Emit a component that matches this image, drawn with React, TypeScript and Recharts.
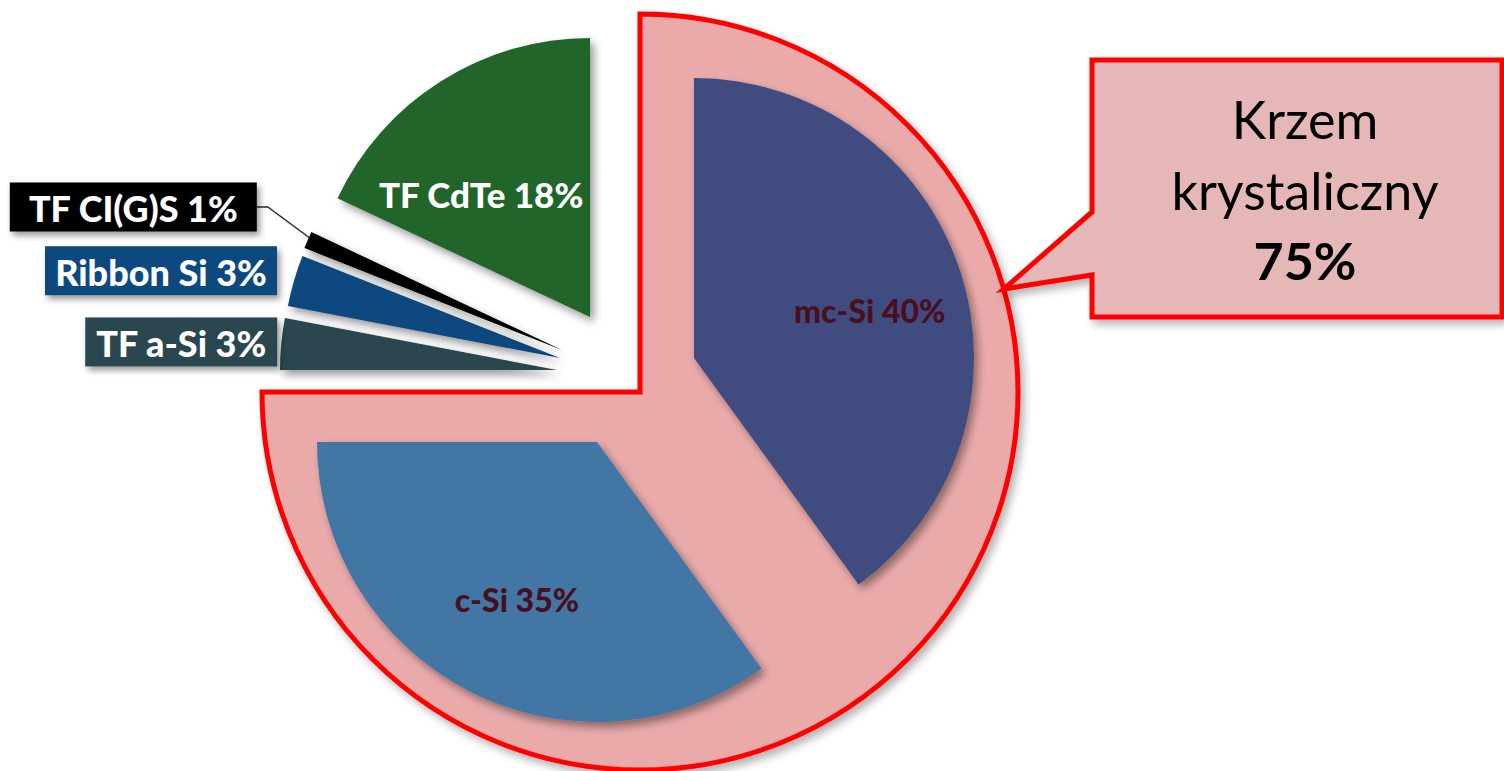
import { PieChart, Pie, Cell } from "recharts";

// market shares of PV technologies, %
const categories = ["mc-Si", "c-Si", "TF a-Si", "Ribbon Si", "TF CI(G)S", "TF CdTe"];
const shares = [40, 35, 3, 3, 1, 18];

// the two crystalline technologies grouped in the highlighted region
const crystalline = ["mc-Si", "c-Si"];
const calloutLines = ["Krzem", "krystaliczny"];

const sliceColors = ["#3f4b80", "#4276a4", "#2c4650", "#0f4a7e", "#050505", "#22652b"];

const RAD = Math.PI / 180;
const W = 1504;
const H = 771;

const pieData = categories.map((name, i) => ({ name, value: shares[i] }));
const crystallineShare = categories.reduce(
  (sum, name, i) => (crystalline.includes(name) ? sum + shares[i] : sum),
  0,
);
const total = shares.reduce((a, b) => a + b, 0);
const groupData = [
  { name: calloutLines.join(" "), value: crystallineShare },
  { name: "rest", value: total - crystallineShare },
];

// every wedge is pulled out on its own, so each one gets its own centre
type Wedge = {
  cx: number;
  cy: number;
  r: number;
  kind: "inside" | "box";
  dist?: number;
  turn?: number;
  ink?: string;
  size?: number;
  nudge?: [number, number];
  boxW?: number;
  leader?: number;
};

const wedges: Wedge[] = [
  { cx: 694, cy: 358, r: 280, kind: "inside", dist: 0.65, turn: 3, ink: "#4a0f1f", size: 32 },
  { cx: 597, cy: 442, r: 280, kind: "inside", dist: 0.63, turn: 0, ink: "#4a0f1f", size: 32 },
  { cx: 557, cy: 370, r: 277, kind: "box", nudge: [-4, -2], boxW: 192 },
  { cx: 560, cy: 358, r: 277, kind: "box", nudge: [-17, -10], boxW: 232 },
  { cx: 562, cy: 350, r: 277, kind: "box", nudge: [-40, -33], boxW: 247, leader: 11 },
  { cx: 590, cy: 317, r: 279, kind: "inside", dist: 0.59, turn: -9, ink: "#ffffff", size: 35 },
];

const group = { cx: 640, cy: 392, r: 378 };
const callout = { left: 1092, top: 60, right: 1502, bottom: 317, neckTop: 212, neckBottom: 275, angle: 15.8, textX: 1305 };

const labelFont = "Lato, 'Open Sans', sans-serif";

function wedgeLabel(idx: number) {
  return (props: any) => {
    if (props.index !== idx) return null;
    const w = wedges[idx];
    const name = props.name ?? props.payload?.name;
    const value = props.value ?? props.payload?.value;
    const text = `${name} ${value}%`;
    if (w.kind === "inside") {
      const a = (props.midAngle - (w.turn ?? 0)) * RAD;
      const d = props.outerRadius * (w.dist ?? 0.6);
      return (
        <text
          x={props.cx + d * Math.cos(a)}
          y={props.cy - d * Math.sin(a)}
          textAnchor="middle"
          dominantBaseline="central"
          fill={w.ink}
          fontFamily={labelFont}
          fontWeight={900}
          fontSize={w.size}
        >
          {text}
        </text>
      );
    }
    const a = props.midAngle * RAD;
    const ox = props.cx + props.outerRadius * Math.cos(a);
    const oy = props.cy - props.outerRadius * Math.sin(a);
    const [nx, ny] = w.nudge ?? [0, 0];
    const ax = ox + nx;
    const ay = oy + ny;
    const right = ax - (w.leader ?? 0);
    const bw = w.boxW ?? 200;
    return (
      <g>
        {w.leader ? (
          <polyline
            points={`${ox + 2},${oy - 2} ${ax},${ay} ${right},${ay}`}
            fill="none"
            stroke="#2a2a2a"
            strokeWidth={1.5}
          />
        ) : null}
        <rect
          x={right - bw}
          y={ay - 24.5}
          width={bw}
          height={49}
          fill={sliceColors[idx]}
          filter="url(#boxShadow)"
        />
        <text
          x={right - bw / 2}
          y={ay + 1}
          textAnchor="middle"
          dominantBaseline="central"
          fill="#ffffff"
          fontFamily={labelFont}
          fontWeight={900}
          fontSize={36}
        >
          {text}
        </text>
      </g>
    );
  };
}

// the speech-bubble box pointing at the crystalline region
function groupLabel(props: any) {
  if (props.index !== 0) return null;
  const a = callout.angle * RAD;
  const tx = props.cx + props.outerRadius * Math.cos(a);
  const ty = props.cy - props.outerRadius * Math.sin(a);
  const c = callout;
  const d = `M${c.left},${c.top} L${c.right},${c.top} L${c.right},${c.bottom} L${c.left},${c.bottom} L${c.left},${c.neckBottom} L${tx},${ty} L${c.left},${c.neckTop} Z`;
  return (
    <g>
      <path d={d} fill="#e6b7b7" stroke="#ff0000" strokeWidth={5} filter="url(#bigShadow)" />
      <text x={c.textX} y={139} textAnchor="middle" fontFamily={labelFont} fontSize={52} fill="#000">
        {calloutLines[0]}
      </text>
      <text x={c.textX} y={210} textAnchor="middle" fontFamily={labelFont} fontSize={52} fill="#000">
        {calloutLines[1]}
      </text>
      <text x={c.textX} y={280} textAnchor="middle" fontFamily={labelFont} fontSize={52} fontWeight={700} fill="#000">
        {`${props.value}%`}
      </text>
    </g>
  );
}

export default function App() {
  return (
    <div style={{ position: "absolute", left: 0, top: 0, width: W, height: H, background: "#fff" }}>
      <svg width={0} height={0} style={{ position: "absolute" }}>
        <defs>
          <filter id="wedgeShadow" filterUnits="userSpaceOnUse" x={0} y={0} width={W} height={H}>
            <feDropShadow dx={4} dy={5} stdDeviation={4} floodColor="#000" floodOpacity={0.4} />
          </filter>
          <filter id="boxShadow" filterUnits="userSpaceOnUse" x={0} y={0} width={W} height={H}>
            <feDropShadow dx={3} dy={4} stdDeviation={3} floodColor="#000" floodOpacity={0.4} />
          </filter>
          <filter id="bigShadow" filterUnits="userSpaceOnUse" x={0} y={0} width={W} height={H}>
            <feDropShadow dx={4} dy={5} stdDeviation={4} floodColor="#000" floodOpacity={0.3} />
          </filter>
        </defs>
      </svg>
      <PieChart width={W} height={H} margin={{ top: 0, right: 0, bottom: 0, left: 0 }}>
        <Pie
          data={groupData}
          dataKey="value"
          nameKey="name"
          cx={group.cx}
          cy={group.cy}
          innerRadius={0}
          outerRadius={group.r}
          startAngle={90}
          endAngle={-270}
          isAnimationActive={false}
          label={groupLabel}
          labelLine={false}
        >
          <Cell fill="#eaaaaa" stroke="#ff0000" strokeWidth={5} filter="url(#bigShadow)" />
          <Cell fill="none" stroke="none" />
        </Pie>
        {wedges.map((w, idx) => (
          <Pie
            key={categories[idx]}
            data={pieData}
            dataKey="value"
            nameKey="name"
            cx={w.cx}
            cy={w.cy}
            innerRadius={0}
            outerRadius={w.r}
            startAngle={90}
            endAngle={-270}
            isAnimationActive={false}
            label={wedgeLabel(idx)}
            labelLine={false}
          >
            {pieData.map((d, j) =>
              j === idx ? (
                <Cell key={d.name} fill={sliceColors[j]} stroke="none" filter="url(#wedgeShadow)" />
              ) : (
                <Cell key={d.name} fill="none" stroke="none" />
              ),
            )}
          </Pie>
        ))}
      </PieChart>
    </div>
  );
}
